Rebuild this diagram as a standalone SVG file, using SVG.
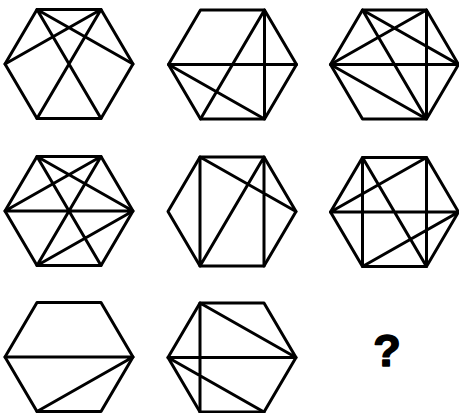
<svg xmlns="http://www.w3.org/2000/svg" xmlns:xlink="http://www.w3.org/1999/xlink" width="459" height="413" viewBox="0 0 459 413">
<style>
.s{fill:none;stroke:#000;stroke-width:3;stroke-linejoin:round;stroke-linecap:round}
.q{font-family:"Liberation Sans",Arial,sans-serif;font-weight:bold;font-size:45px;fill:#000;stroke:#000;stroke-width:1.6;stroke-linejoin:round}
</style>
<defs>
<polygon id="hex" class="s" points="-32,-54.5 32,-54.5 64,0 32,54.5 -32,54.5 -64,0"/>
</defs>
<rect width="459" height="413" fill="#fff"/>
<g id="hex1" transform="translate(69,64)"><use xlink:href="#hex"/><path class="s" d="M-32,-54.5L64,0M32,-54.5L-64,0M-32,-54.5L32,54.5M32,-54.5L-32,54.5"/></g>
<g id="hex2" transform="translate(232.5,64.5)"><use xlink:href="#hex"/><path class="s" d="M-64,0L64,0M32,-54.5L32,54.5M32,-54.5L-32,54.5M-64,0L32,54.5"/></g>
<g id="hex3" transform="translate(394.5,64.5)"><use xlink:href="#hex"/><path class="s" d="M-32,-54.5L64,0M32,-54.5L-64,0M-64,0L64,0M-32,-54.5L32,54.5M32,-54.5L32,54.5M-64,0L32,54.5"/></g>
<g id="hex4" transform="translate(69,211)"><use xlink:href="#hex"/><path class="s" d="M-32,-54.5L64,0M32,-54.5L-64,0M-64,0L64,0M-32,-54.5L32,54.5M32,-54.5L-32,54.5M64,0L-32,54.5"/></g>
<g id="hex5" transform="translate(232,211.5)"><use xlink:href="#hex"/><path class="s" d="M-32,-54.5L-32,54.5M32,-54.5L32,54.5M-32,-54.5L64,0M32,-54.5L-32,54.5"/></g>
<g id="hex6" transform="translate(394.5,212)"><use xlink:href="#hex"/><path class="s" d="M-32,-54.5L-32,54.5M32,-54.5L32,54.5M32,-54.5L-64,0M-64,0L64,0M-32,-54.5L32,54.5M64,0L-32,54.5"/></g>
<g id="hex7" transform="translate(69,357)"><use xlink:href="#hex"/><path class="s" d="M-64,0L64,0M64,0L-32,54.5"/></g>
<g id="hex8" transform="translate(232,357.5)"><use xlink:href="#hex"/><path class="s" d="M-32,-54.5L-32,54.5M-32,-54.5L64,0M-64,0L64,0M-64,0L32,54.5"/></g>
<g id="question"><text class="q" x="387" y="366" text-anchor="middle">?</text></g>
</svg>
